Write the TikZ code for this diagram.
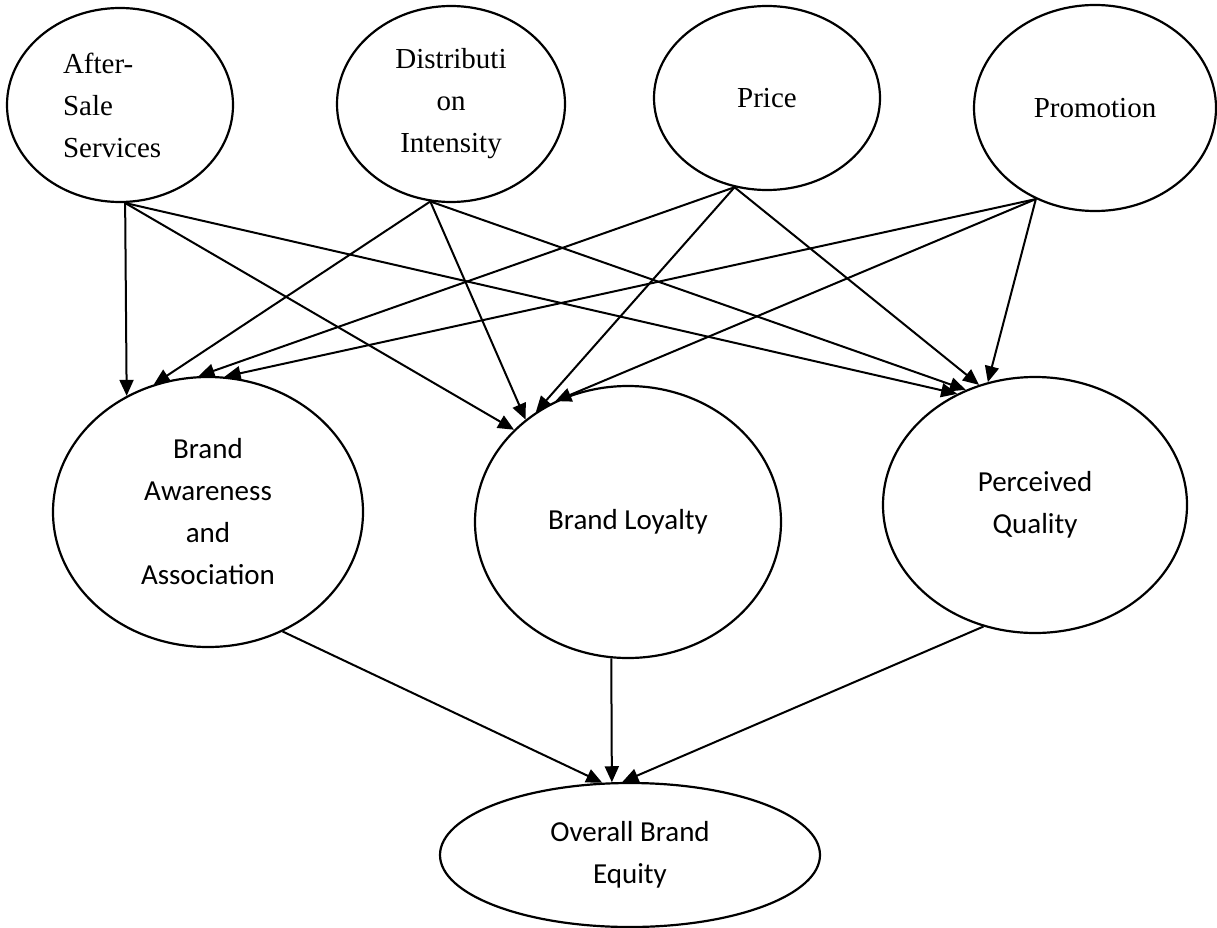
\documentclass[tikz,border=0pt]{standalone}
\usepackage{fontspec}
\setmainfont{Liberation Serif}
\newfontfamily\calibri{Carlito}
\usepackage{tikz}
\usetikzlibrary{shapes.geometric,arrows.meta}
\tikzstyle{fac}=[shape=ellipse,draw,line width=2.2pt,inner sep=0pt,align=center,font=\fontsize{29}{42}\selectfont]
\tikzstyle{dim}=[fac,font=\calibri\fontsize{29}{42}\selectfont]
\tikzstyle{arr}=[-{Triangle[length=16pt,width=14pt]},line width=2pt]

\begin{document}
\begin{tikzpicture}[x=1pt,y=-1pt]
    \useasboundingbox (0,0) rectangle (1217,928);
        % marketing mix
        \node[fac,align=left,text width=114pt,minimum width=226pt,minimum height=194pt] (AS) at (120,105) {After-\\Sale\\Services};
        \node[fac,minimum width=228pt,minimum height=196pt] (DI) at (451,104) {Distributi\\on\\Intensity};
        \node[fac,minimum width=226pt,minimum height=184pt] (PR) at (767,98) {Price};
        \node[fac,minimum width=242pt,minimum height=206pt] (PM) at (1095,108) {Promotion};
        % brand equity dimensions
        \node[dim,minimum width=310pt,minimum height=270pt] (BAA) at (208,512) {Brand\\Awareness\\and\\Association};
        \node[dim,minimum width=306pt,minimum height=272pt] (BL) at (628,522) {Brand Loyalty};
        \node[dim,minimum width=304pt,minimum height=256pt] (PQ) at (1035,505) {Perceived\\Quality};
        \node[dim,minimum width=380pt,minimum height=144pt] (OBE) at (630,855) {Overall Brand\\Equity};

        \draw[arr] (AS.273) -- (BAA.125);
        \draw[arr] (AS.273) -- (BL.141);
        \draw[arr] (AS.273) -- (PQ.125);
        \draw[arr] (DI.258) -- (BAA.113);
        \draw[arr] (DI.258) -- (BL.135);
        \draw[arr] (DI.258) -- (PQ.121);
        \draw[arr] (PR.250) -- (BAA.94);
        \draw[arr] (PR.250) -- (BL.130);
        \draw[arr] (PR.250) -- (PQ.115);
        \draw[arr] (PM.237) -- (BAA.83);
        \draw[arr] (PM.237) -- (BL.121);
        \draw[arr] (PM.237) -- (PQ.111);

        \draw[arr] (BAA.302) -- (OBE.111);
        \draw[arr] (BL.263) -- (OBE.104);
        \draw[arr] (PQ.247) -- (OBE.96);
\end{tikzpicture}
\end{document}
